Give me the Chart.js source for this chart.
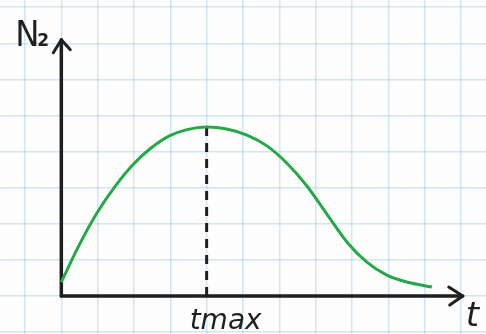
<!DOCTYPE html>
<html>
<head>
<meta charset="utf-8">
<script src="https://cdn.jsdelivr.net/npm/chart.js@4"></script>
<style>
  html, body { margin: 0; padding: 0; background: #fdfdfd; }
  #chart { display: block; }
</style>
</head>
<body>
<canvas id="chart" width="486" height="334"></canvas>
<script>
// curve N2(t), in grid squares
const curveX = [0, 0.49, 0.98, 1.48, 1.97, 2.47, 2.96, 3.46, 4.0, 4.55, 5.11, 5.66, 6.21, 6.76, 7.31, 7.86, 8.41, 8.96, 9.51, 10.2];
const curveY = [0.39, 1.41, 2.3, 3.04, 3.64, 4.1, 4.43, 4.61, 4.68, 4.63, 4.46, 4.16, 3.68, 3.05, 2.27, 1.5, 0.94, 0.58, 0.39, 0.25];

const tMax = 4.0;
const peakValue = 4.68;
const xAxisEnd = 11.05;
const yAxisEnd = 7.1;

const yLabel = 'N';
const yLabelSub = '2';
const xLabel = 't';
const peakLabel = 'tmax';

const ink = '#1f1f1f';
const green = '#25a847';
const gridBlue = 'rgba(120,180,220,0.32)';

const curve = curveX.map((x, i) => ({ x, y: curveY[i] }));

const paper = {
    id: 'paper',
    beforeDraw(chart) {
        const ctx = chart.ctx;
        ctx.save();
        ctx.fillStyle = '#fdfdfd';
        ctx.fillRect(0, 0, chart.width, chart.height);
        ctx.restore();
    }
};

// arrow heads and hand lettering
const sketch = {
    id: 'sketch',
    afterDatasetsDraw(chart) {
        const ctx = chart.ctx;
        const xs = chart.scales.x;
        const ys = chart.scales.y;
        const ox = xs.getPixelForValue(0);
        const oy = ys.getPixelForValue(0);
        const yTip = ys.getPixelForValue(yAxisEnd);
        const xTip = xs.getPixelForValue(xAxisEnd);

        ctx.save();
        ctx.strokeStyle = ink;
        ctx.lineWidth = 3;
        ctx.lineCap = 'round';
        ctx.lineJoin = 'round';

        ctx.beginPath();
        ctx.moveTo(ox - 8, yTip + 13);
        ctx.lineTo(ox, yTip);
        ctx.lineTo(ox + 9, yTip + 10);
        ctx.stroke();

        ctx.beginPath();
        ctx.moveTo(xTip - 14, oy - 9);
        ctx.lineTo(xTip, oy);
        ctx.lineTo(xTip - 13, oy + 9);
        ctx.stroke();

        ctx.fillStyle = ink;
        ctx.textBaseline = 'alphabetic';
        ctx.textAlign = 'left';
        ctx.font = '36px "DejaVu Sans Condensed"';
        ctx.fillText(yLabel, ox - 46, yTip + 6);
        ctx.font = 'bold 17px "DejaVu Sans"';
        ctx.fillText(yLabelSub, ox - 24, yTip + 6);

        ctx.font = 'italic 34px "DejaVu Sans"';
        ctx.fillText(xLabel, xTip + 3, oy + 30);

        ctx.textAlign = 'center';
        ctx.font = 'italic 28px "DejaVu Sans"';
        ctx.fillText(peakLabel, xs.getPixelForValue(tMax) + 19, oy + 33);
        ctx.restore();
    }
};

new Chart(document.getElementById('chart'), {
    type: 'line',
    data: {
        datasets: [
            {
                data: curve,
                borderColor: green,
                borderWidth: 3,
                cubicInterpolationMode: 'monotone',
                pointRadius: 0
            },
            {
                data: [{ x: tMax, y: 0 }, { x: tMax, y: peakValue }],
                borderColor: ink,
                borderWidth: 3,
                borderDash: [9, 7],
                pointRadius: 0
            },
            {
                data: [{ x: 0, y: 0 }, { x: xAxisEnd, y: 0 }],
                borderColor: ink,
                borderWidth: 3.5,
                borderCapStyle: 'round',
                pointRadius: 0
            },
            {
                data: [{ x: 0, y: 0 }, { x: 0, y: yAxisEnd }],
                borderColor: ink,
                borderWidth: 3.5,
                borderCapStyle: 'round',
                pointRadius: 0
            }
        ]
    },
    options: {
        responsive: false,
        animation: false,
        layout: { padding: 0 },
        plugins: {
            legend: { display: false },
            tooltip: { enabled: false }
        },
        scales: {
            x: {
                type: 'linear',
                min: -1.688,
                max: 11.69,
                border: { display: false },
                grid: { color: gridBlue, lineWidth: 1.5, drawTicks: false },
                ticks: { display: false, stepSize: 1, includeBounds: false }
            },
            y: {
                type: 'linear',
                min: -1.05,
                max: 8.2,
                border: { display: false },
                grid: { color: gridBlue, lineWidth: 1.5, drawTicks: false },
                ticks: { display: false, stepSize: 1, includeBounds: false }
            }
        }
    },
    plugins: [paper, sketch]
});
</script>
</body>
</html>
